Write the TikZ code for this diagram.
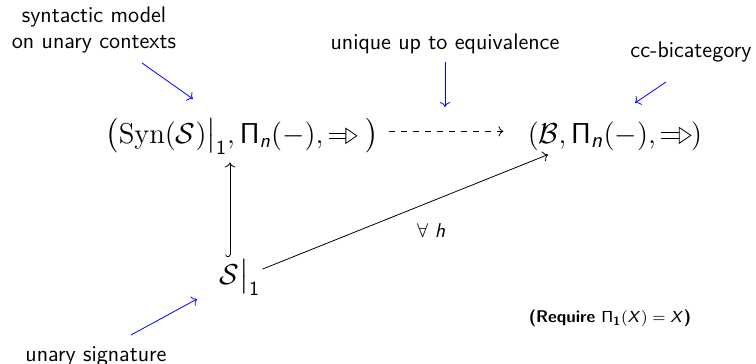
\documentclass[tikz,border=0pt]{standalone}
\usepackage{amsmath,amssymb}
\usepackage{tikz}
\usetikzlibrary{arrows.meta}
\DeclareMathAlphabet{\mathsfit}{OT1}{cmss}{m}{sl}
\DeclareMathAlphabet{\mathsfbf}{OT1}{cmss}{bx}{n}
\newcommand{\trirarrow}{\mathrel{\tikz[baseline=-0.25em, line width=0.4pt]{%
  \draw (0,0.1em) -- (0.62em,0.1em) (0,-0.1em) -- (0.62em,-0.1em);
  \draw[fill=white] (0.6em,0.26em) -- (0.98em,0) -- (0.6em,-0.26em) -- cycle;}}}
\newcommand{\sPi}{\mathsf{\Pi}}

\begin{document}
\begin{tikzpicture}[x=0.5pt, y=-0.5pt, note/.style={font=\sffamily\fontsize{11.3}{12.6}\selectfont, align=center, inner sep=0pt}, obj/.style={font=\Large, inner sep=1pt}, pointer/.style={->, blue}]
    \useasboundingbox (0,0) rectangle (756,364);

    \node[obj, anchor=base] (syn) at (242,143) {$\big(\mathrm{Syn}(\mathcal{S})\big|_{\mathsf{1}}, \sPi_{\mathsfit{n}}(-), \trirarrow\big)$};
    \node[obj, anchor=base, font=\fontsize{15.2}{18}\selectfont] (bic) at (615,143) {$(\mathcal{B}, \sPi_{\mathsfit{n}}(-), \trirarrow)$};
    \node[obj, anchor=base] (sig) at (240,284) {$\mathcal{S}\big|_{\mathsf{1}}$};

    \draw[->, dashed, shorten <=4pt, shorten >=11pt] ([yshift=2.5pt]syn.east) -- ([yshift=2.5pt]syn.east -| bic.west);
    \draw[{Hooks[right]}->, shorten >=3pt] ([xshift=-5]sig.north) -- ([xshift=-5]sig.north |- syn.south);
    \draw[->] (sig.20) -- ([xshift=-33.5pt,yshift=-1pt]bic.south) node[midway, xshift=13pt, yshift=-9.5pt] {$\forall\ \mathsfit{h}$};

    \node[note] (lsyn) at (94,30) {syntactic model\\on unary contexts};
    \node[note] (luniq) at (445,44) {unique up to equivalence};
    \node[note] (lbic) at (691,52) {cc-bicategory};
    \node[note] (lsig) at (96,356) {unary signature};
    \node[note, font=\sffamily\bfseries\fontsize{8.5}{10}\selectfont] (req) at (610,318) {(Require $\sPi_{\mathsfbf{1}}(\mathsfit{X}) = \mathsfit{X}$)};

    \coordinate (a1) at (142,63);
    \coordinate (b1) at (193,99);
    \coordinate (a2) at (445,62);
    \coordinate (b2) at (445,107);
    \coordinate (a3) at (666,82);
    \coordinate (b3) at (635,103);
    \coordinate (a4) at (131,335);
    \coordinate (b4) at (197,299);
    \draw[pointer] (a1) -- (b1);
    \draw[pointer] (a2) -- (b2);
    \draw[pointer] (a3) -- (b3);
    \draw[pointer] (a4) -- (b4);
\end{tikzpicture}
\end{document}
